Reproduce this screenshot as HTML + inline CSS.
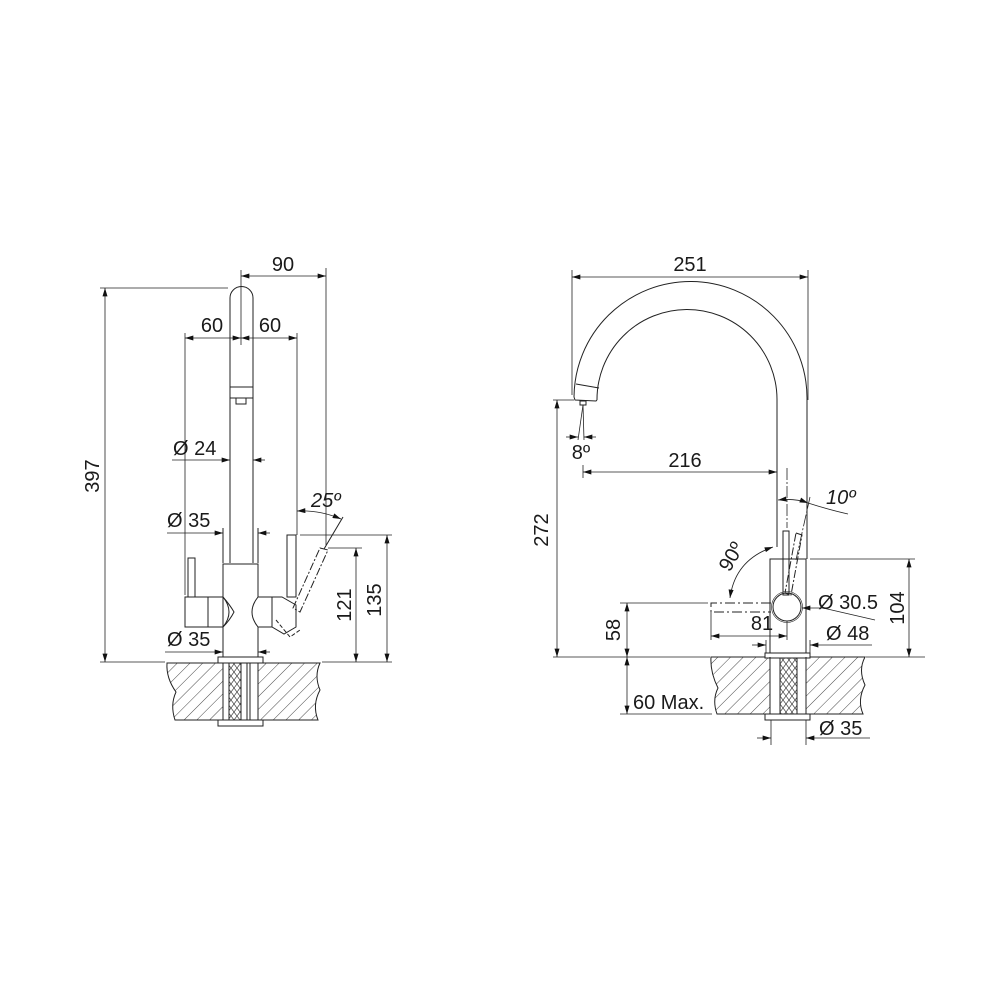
<!DOCTYPE html>
<html><head><meta charset="utf-8"><style>
html,body{margin:0;padding:0;background:#fff;}
svg{display:block;}
text{font-family:"Liberation Sans",Arial,sans-serif;font-size:20px;fill:#1a1a1a;}
</style></head><body>
<svg width="1000" height="1000" viewBox="0 0 1000 1000" xmlns="http://www.w3.org/2000/svg">
<defs>
<marker id="a" viewBox="0 0 10 6" refX="10" refY="3" markerWidth="9" markerHeight="5" markerUnits="userSpaceOnUse" orient="auto-start-reverse"><path d="M0,0L10,3L0,6z" fill="#111"/></marker>
<pattern id="h" patternUnits="userSpaceOnUse" width="9" height="9" patternTransform="rotate(45)"><line x1="0" y1="0" x2="0" y2="9" stroke="#333" stroke-width="0.9"/></pattern>
<pattern id="br" patternUnits="userSpaceOnUse" width="6" height="8"><path d="M0,0L6,8M6,0L0,8" stroke="#444" stroke-width="0.7"/></pattern>
</defs>
<g fill="none" stroke="#222" stroke-width="1">
<path d="M167,663 L223,663 L223,720 L175,720 Q170,705 176,692 Q166,678 167,663z" fill="url(#h)"/>
<path d="M258,663 L320,663 Q314,676 320,690 Q312,705 318,720 L258,720z" fill="url(#h)"/>
<rect x="229" y="663" width="12" height="57" fill="url(#br)"/>
<line x1="247" y1="663" x2="247" y2="720"/><line x1="250" y1="663" x2="250" y2="720"/>
<rect x="218" y="657" width="45" height="6" fill="#fff"/>
<rect x="218" y="720" width="45" height="6" fill="#fff"/>
<line x1="223" y1="663" x2="223" y2="720"/><line x1="258" y1="663" x2="258" y2="720"/>
<path d="M230,563 L230,298 A11.5,11.5 0 0 1 253,298 L253,563"/>
<line x1="230" y1="387" x2="253" y2="387"/><line x1="230" y1="398" x2="253" y2="398"/>
<path d="M236,398 L236,404 L246,404 L246,398"/>
<line x1="223" y1="528" x2="223" y2="563"/><line x1="258" y1="528" x2="258" y2="563"/>
<path d="M223,564 L258,564 L258,597 Q246,612 258,627 L258,657 L223,657 L223,627 Q235,612 223,597 Z"/>
<rect x="185" y="597" width="38" height="30"/><line x1="208" y1="597" x2="208" y2="627"/>
<rect x="188" y="558" width="7" height="39"/>
<path d="M223,597 Q230,605 234,612 Q230,620 223,627"/>
<path d="M258,597 L282,597 L296,605 L296,627 L284,634 L272,627 L258,627"/>
<line x1="272" y1="597" x2="272" y2="627"/>
<rect x="287" y="535" width="9" height="62"/>
<path d="M320,548 L328,550 L300,612 L293,608 Z" stroke-dasharray="8,2,2,2"/>
<path d="M276,620 L290,637 L300,630" stroke-dasharray="4,2"/>
<line x1="324" y1="549" x2="343" y2="517"/>
</g>
<g fill="none" stroke="#222" stroke-width="0.8">
<line x1="105" y1="288" x2="105" y2="662" marker-start="url(#a)" marker-end="url(#a)"/>
<line x1="100" y1="288" x2="228" y2="288"/>
<line x1="100" y1="662" x2="165" y2="662"/><line x1="322" y1="662" x2="392" y2="662"/>
<line x1="241" y1="270" x2="241" y2="345"/><line x1="326" y1="268" x2="326" y2="545"/>
<line x1="241" y1="276" x2="326" y2="276" marker-start="url(#a)" marker-end="url(#a)"/>
<line x1="185" y1="333" x2="185" y2="595"/><line x1="297" y1="333" x2="297" y2="535"/>
<line x1="185" y1="338" x2="241" y2="338" marker-start="url(#a)" marker-end="url(#a)"/>
<line x1="241" y1="338" x2="297" y2="338" marker-start="url(#a)" marker-end="url(#a)"/>
<line x1="172" y1="460" x2="230" y2="460" marker-end="url(#a)"/><line x1="265" y1="460" x2="253" y2="460" marker-end="url(#a)"/>
<line x1="167" y1="533" x2="223" y2="533" marker-end="url(#a)"/><line x1="270" y1="533" x2="258" y2="533" marker-end="url(#a)"/>
<line x1="165" y1="652" x2="223" y2="652" marker-end="url(#a)"/><line x1="270" y1="652" x2="258" y2="652" marker-end="url(#a)"/>
<path d="M297,511 Q320,510 341,519" marker-start="url(#a)" marker-end="url(#a)"/>
<line x1="300" y1="535" x2="392" y2="535"/><line x1="328" y1="548" x2="362" y2="548"/>
<line x1="356" y1="548" x2="356" y2="662" marker-start="url(#a)" marker-end="url(#a)"/>
<line x1="387" y1="535" x2="387" y2="662" marker-start="url(#a)" marker-end="url(#a)"/>
</g>
<g>
<text x="99" y="476" transform="rotate(-90 99 476)" text-anchor="middle">397</text>
<text x="283" y="271" text-anchor="middle">90</text>
<text x="212" y="332" text-anchor="middle">60</text>
<text x="270" y="332" text-anchor="middle">60</text>
<text x="173" y="455">Ø 24</text>
<text x="167" y="527">Ø 35</text>
<text x="167" y="646">Ø 35</text>
<text x="311" y="507" font-style="italic">25º</text>
<text x="351" y="605" transform="rotate(-90 351 605)" text-anchor="middle">121</text>
<text x="381" y="600" transform="rotate(-90 381 600)" text-anchor="middle">135</text>
</g>

<g fill="none" stroke="#222" stroke-width="1">
<path d="M711,657 L770,657 L770,714 L717,714 Q712,700 718,688 Q710,672 711,657z" fill="url(#h)"/>
<path d="M806,657 L865,657 Q858,670 865,685 Q857,700 863,714 L806,714z" fill="url(#h)"/>
<rect x="780" y="657" width="17" height="57" fill="url(#br)"/>
<rect x="765" y="653" width="45" height="5" fill="#fff"/>
<rect x="765" y="714" width="45" height="6" fill="#fff"/>
<line x1="770" y1="657" x2="770" y2="714"/><line x1="806" y1="657" x2="806" y2="714"/>
<path d="M574,397 A116.5,116.5 0 0 1 807,399 L807,559"/>
<path d="M597,400 A89.5,89.5 0 0 1 777,399 L777,547"/>
<path d="M574,397 L575,400 L596,401 L597,400"/>
<line x1="576" y1="384" x2="599" y2="388"/>
<rect x="580" y="401" width="6" height="4"/>
<rect x="770" y="559" width="36" height="94"/>
<circle cx="787" cy="607" r="14"/>
<circle cx="787" cy="607" r="15.5" stroke-width="0.6"/>
<rect x="783" y="531" width="6" height="64"/>
<path d="M796,533 L802,535 L791,595 L785,593 Z" stroke-dasharray="8,2,2,2"/>
<path d="M771,603 L711,603 L711,612 L771,612" stroke-dasharray="10,3,2,3"/>
</g>
<g fill="none" stroke="#222" stroke-width="0.8">
<line x1="572" y1="270" x2="572" y2="395"/><line x1="808" y1="270" x2="808" y2="400"/>
<line x1="572" y1="277" x2="808" y2="277" marker-start="url(#a)" marker-end="url(#a)"/>
<line x1="553" y1="400" x2="574" y2="400"/>
<line x1="557" y1="400" x2="557" y2="657" marker-start="url(#a)" marker-end="url(#a)"/>
<line x1="553" y1="657" x2="710" y2="657"/><line x1="866" y1="657" x2="925" y2="657"/>
<line x1="583" y1="405" x2="578" y2="440"/><line x1="583" y1="405" x2="584" y2="440"/>
<line x1="566" y1="437" x2="578" y2="437" marker-end="url(#a)"/><line x1="596" y1="437" x2="584" y2="437" marker-end="url(#a)"/>
<line x1="583" y1="465" x2="583" y2="478"/>
<line x1="583" y1="472" x2="777" y2="472" marker-start="url(#a)" marker-end="url(#a)"/>
<line x1="787" y1="468" x2="787" y2="528" stroke-dasharray="12,2,2,2"/>
<line x1="810" y1="497" x2="796" y2="560" stroke-dasharray="12,2,2,2"/>
<path d="M778,500 Q795,498 808,503" marker-start="url(#a)" marker-end="url(#a)"/>
<path d="M808,503 Q830,510 848,514"/>
<path d="M773,547 Q735,560 730,598" marker-start="url(#a)" marker-end="url(#a)"/>
<line x1="620" y1="603" x2="708" y2="603"/>
<line x1="627" y1="603" x2="627" y2="657" marker-start="url(#a)" marker-end="url(#a)"/>
<line x1="627" y1="657" x2="627" y2="714" marker-start="url(#a)" marker-end="url(#a)"/>
<line x1="620" y1="714" x2="712" y2="714"/>
<line x1="711" y1="612" x2="711" y2="640"/><line x1="787" y1="621" x2="787" y2="640"/>
<line x1="711" y1="636" x2="787" y2="636" marker-start="url(#a)" marker-end="url(#a)"/>
<line x1="875" y1="620" x2="823" y2="608"/><line x1="823" y1="608" x2="802" y2="608" marker-end="url(#a)"/>
<line x1="752" y1="645" x2="766" y2="645" marker-end="url(#a)"/><line x1="872" y1="645" x2="810" y2="645" marker-end="url(#a)"/>
<line x1="766" y1="640" x2="766" y2="653"/><line x1="810" y1="640" x2="810" y2="653"/>
<line x1="810" y1="559" x2="915" y2="559"/>
<line x1="909" y1="559" x2="909" y2="657" marker-start="url(#a)" marker-end="url(#a)"/>
<line x1="771" y1="720" x2="771" y2="745"/><line x1="806" y1="720" x2="806" y2="745"/>
<line x1="757" y1="738" x2="771" y2="738" marker-end="url(#a)"/><line x1="870" y1="738" x2="806" y2="738" marker-end="url(#a)"/>
</g>
<g>
<text x="690" y="271" text-anchor="middle">251</text>
<text x="548" y="530" transform="rotate(-90 548 530)" text-anchor="middle">272</text>
<text x="581" y="459" text-anchor="middle">8º</text>
<text x="685" y="467" text-anchor="middle">216</text>
<text x="826" y="504" font-style="italic">10º</text>
<text x="737" y="560" transform="rotate(-60 737 560)" text-anchor="middle">90º</text>
<text x="620" y="630" transform="rotate(-90 620 630)" text-anchor="middle">58</text>
<text x="762" y="630" text-anchor="middle">81</text>
<text x="818" y="609">Ø 30.5</text>
<text x="826" y="640">Ø 48</text>
<text x="904" y="608" transform="rotate(-90 904 608)" text-anchor="middle">104</text>
<text x="633" y="709">60 Max.</text>
<text x="819" y="735">Ø 35</text>
</g>
</svg>
</body></html>
